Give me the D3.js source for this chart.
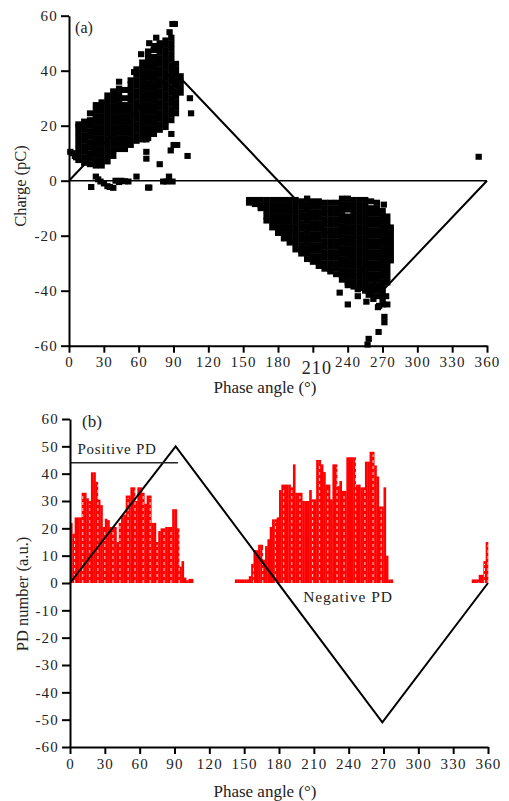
<!DOCTYPE html>
<html lang="en">
<head>
<meta charset="UTF-8">
<title>PD phase patterns</title>
<script src="https://d3js.org/d3.v7.min.js"></script>
<style>
    html, body { margin: 0; padding: 0; background: #fff; }
    svg { display: block; }
    text { font-family: "Liberation Serif", serif; fill: #222; }
    .tick text { font-size: 15px; letter-spacing: 1.2px; }
    .domain, .tick line { stroke: #000; stroke-width: 2px; }
</style>
</head>
<body>
<svg width="509" height="801"></svg>
<script>
const xTicks = [0, 30, 60, 90, 120, 150, 180, 210, 240, 270, 300, 330, 360];
const chargeTicks = [-60, -40, -20, 0, 20, 40, 60];
const countTicks = [-60, -50, -40, -30, -20, -10, 0, 10, 20, 30, 40, 50, 60];

// (a) positive cluster, one list of charges per phase column
const posPhases = [8, 13, 18, 23, 28, 33, 38, 43, 48, 53, 58, 63, 68, 73, 78, 83, 88, 92, 96];
const posCharges = [
    [7.5, 9.5, 11.5, 13.5, 15.5, 17.5, 19.5, 20.5],
    [6.5, 8.5, 10.5, 12.5, 14.5, 16.5, 18.5, 20.5, 21.5],
    [6, 8, 10, 12, 14, 16, 18, 20, 22, 24.5],
    [5.5, 7.5, 9.5, 11.5, 13.5, 15.5, 17.5, 19.5, 21.5, 23.5, 25.5, 27.5],
    [5.5, 7.5, 9.5, 11.5, 13.5, 15.5, 17.5, 19.5, 21.5, 23.5, 25.5, 27.5, 28.5],
    [7, 9, 11, 13, 15, 17, 19, 21, 23, 25, 27, 29, 31],
    [9, 11, 13, 15, 17, 19, 21, 23, 25, 27, 29, 31, 32.5],
    [11.5, 13.5, 15.5, 17.5, 19.5, 21.5, 23.5, 25.5, 27.5, 29.5, 31.5, 33.5, 36],
    [11.5, 13.5, 15.5, 17.5, 19.5, 21.5, 23.5, 25.5, 27.5, 30, 33],
    [13, 15, 17, 19, 21, 23, 25, 27, 29, 31, 33, 35, 36.5],
    [14.5, 16.5, 18.5, 20.5, 22.5, 24.5, 26.5, 28.5, 30.5, 32.5, 34.5, 36.5, 38.5, 40.5],
    [15, 17, 19, 21, 23, 25, 27, 29, 31, 33, 35, 37, 39, 41, 43],
    [15.5, 17.5, 19.5, 21.5, 23.5, 25.5, 27.5, 29.5, 31.5, 33.5, 35.5, 37.5, 39.5, 41.5, 43.5, 45.5, 47],
    [17, 19, 21, 23, 25, 27, 29, 31, 33, 35, 37, 39, 41, 43, 45, 47.5, 49],
    [18.5, 20.5, 22.5, 24.5, 26.5, 28.5, 30.5, 32.5, 34.5, 36.5, 38.5, 40.5, 42.5, 44.5, 46.5, 48.5, 50],
    [19.5, 21.5, 23.5, 25.5, 27.5, 29.5, 31.5, 33.5, 35.5, 37.5, 39.5, 41.5, 43.5, 45.5, 47.5, 49.5, 51],
    [22, 24, 26, 28, 30, 32, 34, 36, 38, 40, 42, 44, 46, 48, 50, 52],
    [24.5, 26.5, 28.5, 30.5, 32.5, 34.5, 36.5, 38.5, 40.5, 42.5],
    [32, 34, 36, 38]
];
const posOutPhases = [1, 3, 5, 6, 56, 62, 69, 75, 86.5, 89, 91, 104, 105, 102, 88, 90, 87.5, 93, 78, 66.5, 66.5, 66.5, 66.5, 19, 23, 25, 27, 30, 33, 35, 38, 40, 43, 45, 48, 51, 58, 68, 69, 81, 84, 86, 89, 352.7];
const posOutCharges = [10.5, 10, 9, 8.5, 39.5, 46, 50, 52, 54, 57, 57, 30, 24.5, 9, 17, 13, 11, 13, 6, 8, 10.5, 15, 17, -2.3, 1.5, 0.5, -0.3, -1, -2, -2.3, -2.6, 0, -0.5, 0, -0.2, -0.3, 1.5, -2.5, -2.5, -0.3, -0.3, 1.5, -0.3, 8.7];

// (a) negative cluster
const negPhases = [155, 160, 165, 170, 175, 180, 185, 190, 195, 200, 205, 210, 215, 220, 225, 230, 235, 240, 245, 250, 255, 260, 265, 270, 274, 277];
const negCharges = [
    [-7, -8],
    [-7, -8.5],
    [-7, -9, -10],
    [-7, -9, -11, -13, -14.5],
    [-7, -9, -11, -13, -15, -17],
    [-7, -9, -11, -13, -15, -17, -19],
    [-7, -9, -11, -13, -15, -17, -19, -21],
    [-7, -9, -11, -13, -15, -17, -19, -21, -22.5],
    [-7, -9, -11, -13, -15, -17, -19, -21, -23, -25],
    [-7.5, -9.5, -11.5, -13.5, -15.5, -17.5, -19.5, -21.5, -23.5, -25.5, -26.5],
    [-6.5, -8.5, -10.5, -12.5, -14.5, -16.5, -18.5, -20.5, -22.5, -24.5, -26.5, -28.5],
    [-7.5, -9.5, -11.5, -13.5, -15.5, -17.5, -19.5, -21.5, -23.5, -25.5, -27.5, -29.5],
    [-7.5, -9.5, -11.5, -13.5, -15.5, -17.5, -19.5, -21.5, -23.5, -25.5, -27.5, -29.5, -31],
    [-8, -10, -12, -14, -16, -18, -20, -22, -24, -26, -28, -30, -32],
    [-8, -10, -12, -14, -16, -18, -20, -22, -24, -26, -28, -30, -32, -33],
    [-8, -10, -12, -14, -16, -18, -20, -22, -24, -26, -28, -30, -32, -34],
    [-6.5, -8.5, -10.5, -12.5, -14.5, -16.5, -18.5, -20.5, -22.5, -24.5, -26.5, -28.5, -30.5, -32.5, -34.5, -36],
    [-6.5, -8.5, -10.5, -13, -15, -17, -19, -21, -23, -25, -27, -29, -31, -33, -35, -37, -38],
    [-7, -9, -11, -13, -15, -17, -19, -21, -23, -25, -27, -29, -31, -33, -35, -37, -38.5],
    [-7, -9, -11, -13, -15, -17, -19, -21, -23, -25, -27, -29, -31, -33, -35, -37, -39],
    [-7, -9, -11, -13, -15, -17, -19, -21, -23, -25, -27, -29, -31, -33, -35, -37, -39, -40],
    [-7.5, -10, -12, -14, -16, -18, -20, -22, -24, -26, -28, -30, -32, -34, -36, -38, -40, -41],
    [-8, -10, -12, -14, -16, -18, -20, -22, -24, -26, -28, -30, -32, -34, -36, -38, -40, -42],
    [-11, -13, -15, -17, -19, -21, -23, -25, -27, -29, -31, -33, -35, -37, -39, -41, -43, -45],
    [-13, -15, -17, -19, -21, -23, -25, -27, -29, -31, -33, -35, -37],
    [-17, -19, -21, -23, -25, -27, -29]
];
const negOutPhases = [271, 233, 240, 248.6, 248.6, 258, 266, 274, 271.5, 271.5, 266.5, 258, 257, 256, 262, 267, 273];
const negOutCharges = [-8.7, -40.7, -45, -42, -39.5, -41.5, -46, -45, -49.5, -51.5, -55, -57.5, -59.6, -44, -43, -45.5, -42];

// reference waves
const waveAPhases = [0, 90, 270, 360];
const waveACharges = [0, 40, -40, 0];
const waveBPhases = [0, 91, 269, 360];
const waveBCounts = [0, 50, -51, 0];

// (b) histogram, bars are 2 degrees wide
const posBarStart = 1;
const posBarCounts = [22, 18, 24, 24, 24, 33, 33, 31, 30, 40.5, 40.5, 37, 30.5, 28.5, 20.5, 23.5, 23, 20.5, 20.5, 20.5, 15, 22, 24.5, 25, 32, 32, 35, 35, 30, 35, 35, 33, 29, 32, 32, 22, 22, 15, 19, 20, 20, 20.5, 20.5, 20.5, 27, 27, 20, 6, 8, 2, 1, 1.5, 1.5];
const negBarStart = 143;
const negBarCounts = [1.3, 1.3, 1.3, 1.3, 1.3, 1.3, 2.5, 7, 12, 12, 14, 14, 8.5, 13.5, 16, 20.5, 23.3, 23.3, 24, 34, 36, 36, 36, 36, 35, 43.4, 33, 33, 33, 30, 30, 30, 34, 30.6, 30.6, 45, 45, 43.4, 40.6, 36, 36, 30.6, 43.4, 43.4, 35.5, 37.3, 33.7, 33.7, 46, 46, 46, 46, 36, 36, 35, 35, 44.4, 44.4, 48, 48, 43, 39, 28, 28, 35, 10, 1.3, 1.3];
const endBarStart = 347;
const endBarCounts = [1.3, 1.3, 1.3, 3, 3, 8, 15];
const dashPhases = [4, 11, 17, 24, 30, 37, 43, 50, 56, 63, 69, 75, 81, 87, 94, 158, 166, 177, 184, 191, 198, 209, 215, 222, 230, 236, 246, 254, 261, 268, 352, 357, 360];

const markerSize = 6;
const svg = d3.select("svg");

const xA = d3.scaleLinear().domain([0, 360]).range([69, 487]);
const yA = d3.scaleLinear().domain([-60, 60]).range([345.7, 15.7]);
const xB = d3.scaleLinear().domain([0, 360]).range([70, 488]);
const yB = d3.scaleLinear().domain([-60, 60]).range([747, 419]);

function drawAxes(x, y, yTicks, bottom) {
    const xAxis = svg.append("g")
        .attr("transform", `translate(0,${bottom})`)
        .call(d3.axisBottom(x).tickValues(xTicks).tickSize(7).tickSizeOuter(0).tickPadding(4).tickFormat(d => d));
    svg.append("g")
        .attr("transform", `translate(${x(0)},0)`)
        .call(d3.axisLeft(y).tickValues(yTicks).tickSize(8).tickSizeOuter(0).tickPadding(3).tickFormat(d => d));
    return xAxis;
}

const waveLine = (x, y) => d3.line().x(d => x(d[0])).y(d => y(d[1]));

function label(text, x, y, size, rotate) {
    const t = svg.append("text")
        .attr("text-anchor", "middle")
        .attr("font-size", size)
        .text(text);
    if (rotate) t.attr("transform", `translate(${x},${y}) rotate(-90)`);
    else t.attr("x", x).attr("y", y);
    return t;
}

// panel a
const scatter = [];
posPhases.forEach((p, i) => posCharges[i].forEach(q => scatter.push([p, q])));
posOutPhases.forEach((p, i) => scatter.push([p, posOutCharges[i]]));
negPhases.forEach((p, i) => negCharges[i].forEach(q => scatter.push([p, q])));
negOutPhases.forEach((p, i) => scatter.push([p, negOutCharges[i]]));

svg.append("g").selectAll("rect")
    .data(scatter)
    .enter().append("rect")
    .attr("x", d => xA(d[0]) - markerSize / 2)
    .attr("y", d => yA(d[1]) - markerSize / 2)
    .attr("width", markerSize + 0.3)
    .attr("height", markerSize)
    .attr("fill", "#000");

svg.append("line")
    .attr("x1", xA(0)).attr("x2", xA(360))
    .attr("y1", yA(0)).attr("y2", yA(0))
    .attr("stroke", "#000").attr("stroke-width", 1.5);

svg.append("path")
    .datum(waveAPhases.map((p, i) => [p, waveACharges[i]]))
    .attr("d", waveLine(xA, yA))
    .attr("fill", "none").attr("stroke", "#000").attr("stroke-width", 2);

const xAxisA = drawAxes(xA, yA, chargeTicks, yA(-60));

// the 210 label sits lower and larger in the original
xAxisA.selectAll(".tick text")
    .filter(d => d === 210)
    .style("font-size", "18px")
    .attr("dx", "0.2em")
    .attr("dy", "0.95em");

label("(a)", 84, 33, 16);
label("Charge (pC)", 26, 186, 16.5, true);
label("Phase angle (°)", 265, 393, 17);

// panel b
const bars = [];
[[posBarStart, posBarCounts], [negBarStart, negBarCounts], [endBarStart, endBarCounts]].forEach(([start, counts]) => {
    counts.forEach((c, i) => bars.push([start + i * 2, c]));
});

svg.append("g").selectAll("rect")
    .data(bars)
    .enter().append("rect")
    .attr("x", d => xB(d[0] - 1))
    .attr("y", d => yB(d[1]))
    .attr("width", xB(2) - xB(0) + 0.3)
    .attr("height", d => yB(0) - yB(d[1]))
    .attr("fill", "#ff0000");

const barHeight = p => d3.least(bars, d => Math.abs(d[0] - p))[1];
svg.append("g").selectAll("line")
    .data(dashPhases)
    .enter().append("line")
    .attr("x1", d => xB(d)).attr("x2", d => xB(d))
    .attr("y1", yB(0))
    .attr("y2", d => yB(barHeight(d) - 1))
    .attr("stroke", "#fff").attr("stroke-opacity", 0.85)
    .attr("stroke-width", 1).attr("stroke-dasharray", "3 3");

svg.append("path")
    .datum(waveBPhases.map((p, i) => [p, waveBCounts[i]]))
    .attr("d", waveLine(xB, yB))
    .attr("fill", "none").attr("stroke", "#000").attr("stroke-width", 2);

svg.append("line")
    .attr("x1", xB(0)).attr("x2", xB(93))
    .attr("y1", yB(44)).attr("y2", yB(44))
    .attr("stroke", "#222").attr("stroke-width", 1.5);

drawAxes(xB, yB, countTicks, yB(-60));

label("(b)", 92, 427, 17);
label("Positive PD", 117, 454, 15).attr("letter-spacing", 0.7);
label("Negative PD", 348, 602, 15.5).attr("letter-spacing", 0.9);
label("PD number (a.u.)", 28, 594, 16.5, true);
label("Phase angle (°)", 265, 797, 17);
</script>
</body>
</html>
